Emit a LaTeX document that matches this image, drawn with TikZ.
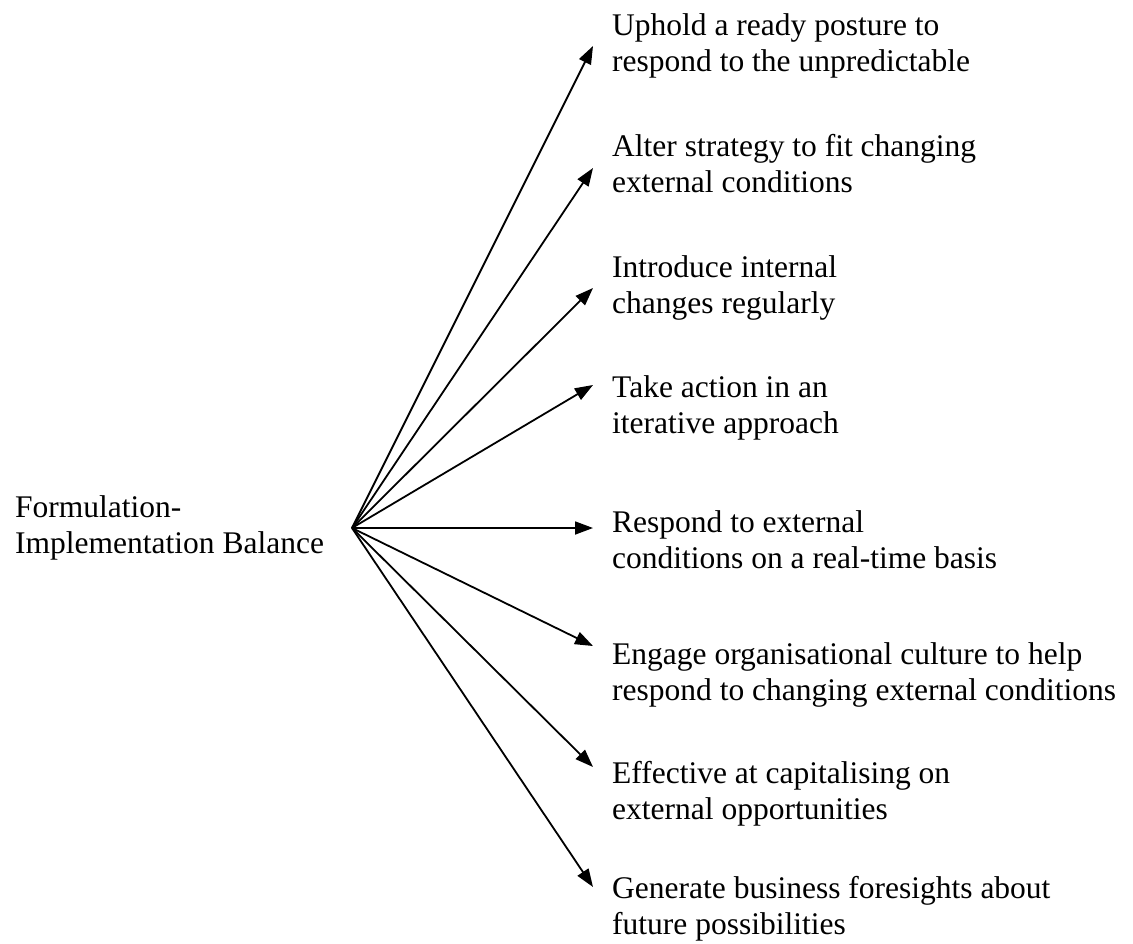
\documentclass[tikz,border=0pt]{standalone}
\usepackage{fontspec}
\setmainfont{Liberation Serif}
\usetikzlibrary{arrows.meta}

% two stacked lines whose reference point is the first baseline
\newcommand{\pairlines}[2]{\vtop{\hbox{#1}\hbox{#2}}}

\begin{document}
\begin{tikzpicture}[x=1pt,y=-1pt,
    label/.style={inner sep=0pt, anchor=base west,
      font=\fontsize{31.5}{36}\selectfont},
    spoke/.style={line width=1.8pt,
      -{Triangle[length=18pt,width=13pt]}}]
  \useasboundingbox (0,0) rectangle (1133,944);

  % source label and the common starting point of all arrows
  \node[label] (src) at (15,517) {\pairlines{Formulation-}{Implementation Balance}};
  \coordinate (o) at (352,528);

  % outcome texts
  \node[label] (t1) at (612,36)  {\pairlines{Uphold a ready posture to}{respond to the unpredictable}};
  \node[label] (t2) at (612,157) {\pairlines{Alter strategy to fit changing}{external conditions}};
  \node[label] (t3) at (612,277) {\pairlines{Introduce internal}{changes regularly}};
  \node[label] (t4) at (612,397) {\pairlines{Take action in an}{iterative approach}};
  \node[label] (t5) at (612,532) {\pairlines{Respond to external}{conditions on a real-time basis}};
  \node[label] (t6) at (612,664) {\pairlines{Engage organisational culture to help}{respond to changing external conditions}};
  \node[label] (t7) at (612,783) {\pairlines{Effective at capitalising on}{external opportunities}};
  \node[label] (t8) at (612,898) {\pairlines{Generate business foresights about}{future possibilities}};

  % arrow tips, just left of each text
  \coordinate (e1) at (593,46);
  \coordinate (e2) at (593,168);
  \coordinate (e3) at (593,288);
  \coordinate (e4) at (593,385);
  \coordinate (e5) at (593,528);
  \coordinate (e6) at (593,646);
  \coordinate (e7) at (593,767);
  \coordinate (e8) at (593,887);

  \foreach \i in {1,...,8}
    \draw[spoke] (o) -- (e\i);
\end{tikzpicture}
\end{document}
